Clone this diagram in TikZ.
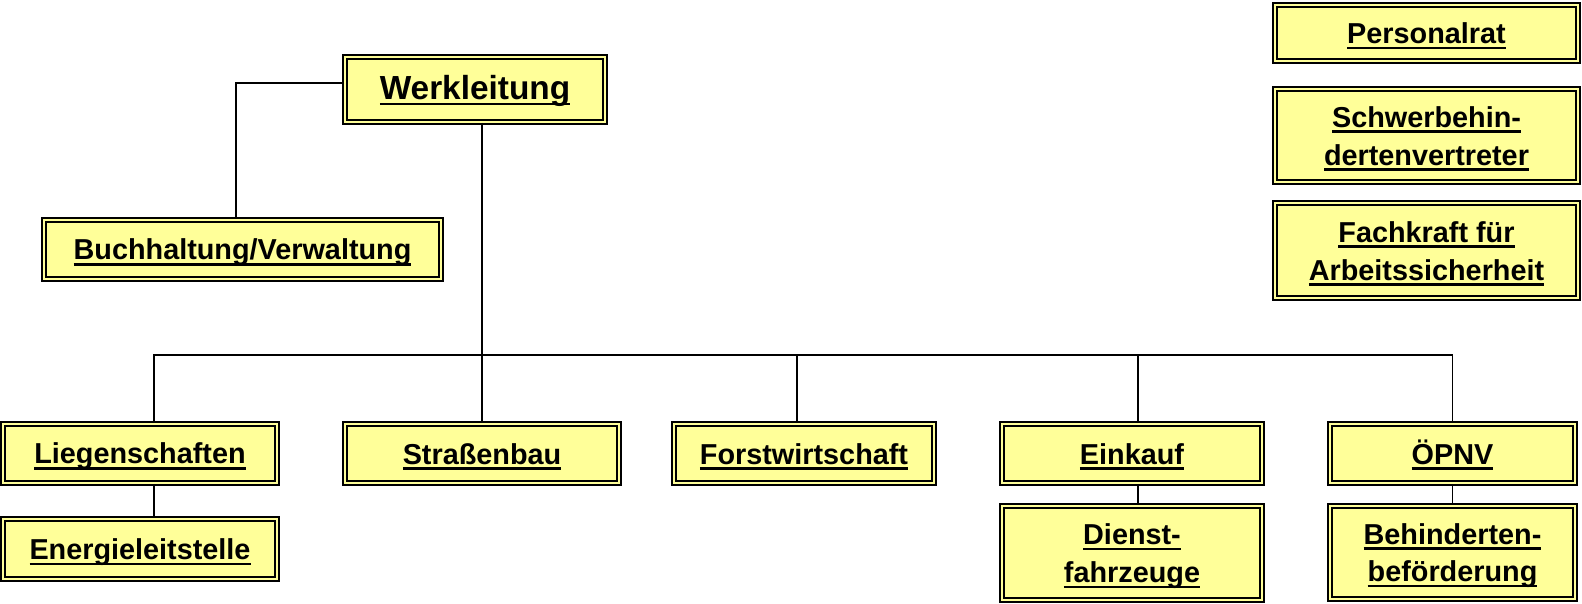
\documentclass[tikz,border=0pt]{standalone}
\usepackage{fontspec}
\setmainfont{Liberation Sans}
\definecolor{orgyellow}{RGB}{255,255,153}
\newcommand{\unterstr}[1]{\setbox0\hbox{#1}\rule{0pt}{15.4pt}\rlap{\rule[-3.2pt]{\wd0}{1.4pt}}\box0}

\begin{document}
\begin{tikzpicture}[
        x=0.02cm, y=-0.02cm,
        orgbox/.style={draw=black, line width=1.1pt, double=orgyellow,
          double distance=1.4pt, fill=orgyellow, align=center, inner sep=0pt,
          font=\fontsize{16.4}{21.5}\selectfont\bfseries},
        line width=0.8pt
    ]
      \useasboundingbox (0,0) rectangle (1582,604);

      % Leitung
      \node[orgbox, minimum width=5.2cm, minimum height=1.3cm,
            font=\fontsize{19}{23}\selectfont\bfseries] (wl) at (475,89.5) {\unterstr{Werkleitung}};
      \node[orgbox, minimum width=7.94cm, minimum height=1.18cm] (buch) at (242.5,249.5) {\unterstr{Buchhaltung/Verwaltung}};

      % Stabsstellen rechts
      \node[orgbox, minimum width=6.06cm, minimum height=1.12cm] (pers) at (1426.5,33) {\unterstr{Personalrat}};
      \node[orgbox, minimum width=6.06cm, minimum height=1.86cm] (schwer) at (1426.5,135.5) {\unterstr{Schwerbehin-}\\\unterstr{dertenvertreter}};
      \node[orgbox, minimum width=6.06cm, minimum height=1.9cm] (fach) at (1426.5,250.5) {\unterstr{Fachkraft für}\\\unterstr{Arbeitssicherheit}};

      % Bereiche
      \node[orgbox, minimum width=5.48cm, minimum height=1.18cm] (lieg) at (140,453.5) {\unterstr{Liegenschaften}};
      \node[orgbox, minimum width=5.48cm, minimum height=1.2cm] (ener) at (140,549) {\unterstr{Energieleitstelle}};
      \node[orgbox, minimum width=5.48cm, minimum height=1.18cm] (str) at (482,453.5) {\unterstr{Straßenbau}};
      \node[orgbox, minimum width=5.2cm, minimum height=1.18cm] (forst) at (804,453.5) {\unterstr{Forstwirtschaft}};
      \node[orgbox, minimum width=5.2cm, minimum height=1.18cm] (eink) at (1132,453.5) {\unterstr{Einkauf}};
      \node[orgbox, minimum width=5.2cm, minimum height=1.88cm] (dienst) at (1132,553) {\unterstr{Dienst-}\\\unterstr{fahrzeuge}};
      \node[orgbox, minimum width=4.9cm, minimum height=1.18cm] (oepnv) at (1452.5,453.5) {\unterstr{ÖPNV}};
      \node[orgbox, minimum width=4.9cm, minimum height=1.86cm] (behind) at (1452.5,552.5) {\unterstr{Behinderten-}\\\unterstr{beförderung}};

      % Verbindungen
      \coordinate (bus) at (0,355);
      \draw ([yshift=0.13cm]wl.west) -| ([xshift=-0.13cm]buch.north);
      \draw (str.north |- wl.south) -- (str.north);
      \draw ([xshift=0.28cm]lieg.north) |- (oepnv.north |- bus) -- (oepnv.north);
      \draw ([xshift=-0.14cm]forst.north) -- ([xshift=-0.14cm]forst.north |- bus);
      \draw ([xshift=0.12cm]eink.north) -- ([xshift=0.12cm]eink.north |- bus);
      \draw ([xshift=0.28cm]lieg.south) -- ([xshift=0.28cm]ener.north);
      \draw ([xshift=0.12cm]eink.south) -- ([xshift=0.12cm]dienst.north);
      \draw (oepnv.south) -- (behind.north);
    \end{tikzpicture}
\end{document}
